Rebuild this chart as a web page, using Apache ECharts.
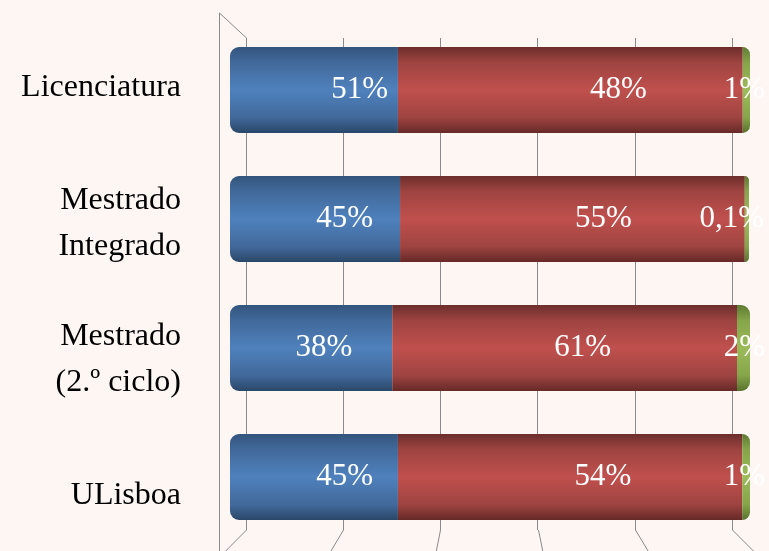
<!DOCTYPE html>
<html>
<head>
<meta charset="utf-8">
<script src="https://cdn.jsdelivr.net/npm/echarts@6/dist/echarts.min.js"></script>
<style>
  html, body { margin: 0; padding: 0; background: #fdf6f3; }
  #chart { width: 769px; height: 551px; }
</style>
</head>
<body>
<div id="chart"></div>
<script>
// categorias (de cima para baixo)
const categories = ["Licenciatura", "Mestrado\nIntegrado", "Mestrado\n(2.º ciclo)", "ULisboa"];
// comprimento visível de cada segmento (parte do eixo das barras)
const blueShare = [32.3, 32.7, 31.2, 32.3];
const redShare = [66.3, 66.3, 66.3, 66.2];
const greenShare = [1.4, 0.8, 2.5, 1.5];
// rótulos tal como aparecem
const blueLabels = ["51%", "45%", "38%", "45%"];
const redLabels = ["48%", "55%", "61%", "54%"];
const greenLabels = ["1%", "0,1%", "2%", "1%"];
// divisões da parede de fundo
const wallTicks = [0, 20, 40, 60, 80, 100];

const rowNudge = [0, -17, -30, -15];
const serif = "Liberation Serif";
const lineColor = "#8a8a8a";

const cyl = (edge, mid, light, dark) => ({
  type: "linear", x: 0, y: 0, x2: 0, y2: 1,
  colorStops: [
    { offset: 0, color: edge },
    { offset: 0.18, color: mid },
    { offset: 0.5, color: light },
    { offset: 0.82, color: mid },
    { offset: 1, color: dark }
  ]
});

const labelBase = {
  show: true,
  position: ["100%", "50%"],
  align: "right",
  verticalAlign: "middle",
  color: "#fff",
  fontFamily: serif,
  fontSize: 31
};

const chart = echarts.init(document.getElementById("chart"));

chart.setOption({
  backgroundColor: "#fdf6f3",
  animation: false,
  grid: [
    // parede de fundo
    { left: 246, width: 486, top: 38, height: 492, outerBoundsMode: "none" },
    // barras
    { left: 230, width: 520, top: 25.5, height: 516, outerBoundsMode: "none" },
    // rótulos das categorias (plano da frente)
    { left: 230, width: 520, top: 20, height: 543, outerBoundsMode: "none" }
  ],
  xAxis: [
    {
      gridIndex: 0, type: "value", min: 0, max: 100, interval: 20,
      axisLine: { show: false }, axisTick: { show: false }, axisLabel: { show: false },
      splitLine: { show: true, lineStyle: { color: lineColor, width: 1 } }
    },
    { gridIndex: 1, type: "value", min: 0, max: 100, show: false },
    { gridIndex: 2, type: "value", min: 0, max: 100, show: false }
  ],
  yAxis: [
    { gridIndex: 0, type: "category", data: categories, show: false },
    { gridIndex: 1, type: "category", data: categories, inverse: true, show: false },
    {
      gridIndex: 2, type: "category", data: categories, inverse: true,
      axisLine: { show: false }, axisTick: { show: false }, splitLine: { show: false },
      axisLabel: { margin: 49, color: "#000", fontFamily: serif, fontSize: 32, lineHeight: 46, align: "right" }
    }
  ],
  series: [
    {
      type: "bar", xAxisIndex: 1, yAxisIndex: 1, stack: "t", barWidth: 86,
      itemStyle: { color: cyl("#33557d", "#41699a", "#4f81bd", "#2a4769"), borderRadius: [9, 0, 0, 9] },
      label: Object.assign({}, labelBase, { formatter: (p) => blueLabels[p.dataIndex] }),
      data: blueShare.map((v, i) => ({ value: v, label: { offset: [-10 + rowNudge[i], 0] } }))
    },
    {
      type: "bar", xAxisIndex: 1, yAxisIndex: 1, stack: "t", barWidth: 86,
      itemStyle: { color: cyl("#6c2e2c", "#9e4441", "#c0504d", "#662927") },
      label: Object.assign({}, labelBase, { formatter: (p) => redLabels[p.dataIndex] }),
      data: redShare.map((v, i) => ({ value: v, label: { offset: [-96 + rowNudge[i], 0] } }))
    },
    {
      type: "bar", xAxisIndex: 1, yAxisIndex: 1, stack: "t", barWidth: 86,
      itemStyle: { color: cyl("#5f7a32", "#86a44a", "#9bbb59", "#58722c"), borderRadius: [0, 9, 9, 0] },
      label: Object.assign({}, labelBase, { formatter: (p) => greenLabels[p.dataIndex], offset: [15, 0] }),
      data: greenShare
    }
  ]
});

// paredes e chão em perspetiva
const graphics = [
  { type: "line", shape: { x1: 219.5, y1: 13, x2: 219.5, y2: 551 } },
  { type: "line", shape: { x1: 219.5, y1: 13, x2: 246.5, y2: 38 } }
];
wallTicks.forEach((v) => {
  const x = Math.round(chart.convertToPixel({ xAxisIndex: 0 }, v)) + 0.5;
  graphics.push({ type: "line", shape: { x1: x, y1: 530, x2: x + (x - 489) * 0.086, y2: 551 } });
});
chart.setOption({
  graphic: graphics.map((g) => Object.assign(g, { silent: true, z: -1, style: { stroke: lineColor, lineWidth: 1 } }))
});
</script>
</body>
</html>
